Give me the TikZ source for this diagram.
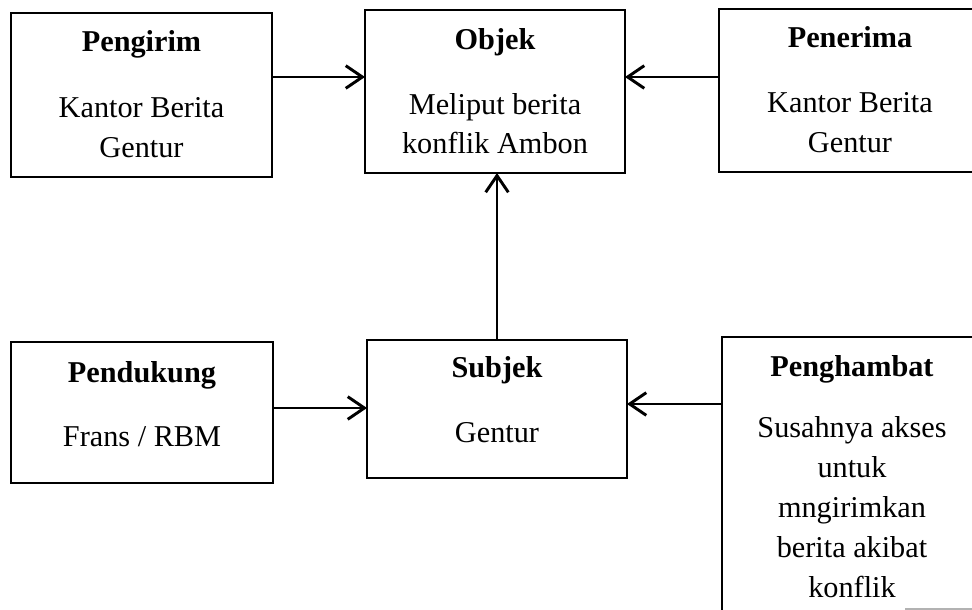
\documentclass[tikz,border=0pt]{standalone}
\usepackage{fontspec}
\setmainfont{Liberation Serif}
\usetikzlibrary{arrows.meta}
\begin{document}
\begin{tikzpicture}[x=0.75pt,y=-0.75pt,
 box/.style={draw, line width=1.8pt, inner sep=0pt, outer sep=0pt, anchor=north west, rectangle},
 ttl/.style={font=\fontsize{22.7pt}{30pt}\selectfont\bfseries, anchor=base, inner sep=0pt},
 body/.style={font=\fontsize{22.7pt}{30pt}\selectfont, anchor=base, align=center, inner sep=0pt},
 arr/.style={line width=2.2pt, -{Straight Barb[length=12.5pt,width=17pt]}}]
\useasboundingbox (0,0) rectangle (972,610);
% boxes
\node[box, minimum width=195.75pt, minimum height=123pt] (pengirim) at (11,13) {};
\node[box, minimum width=195pt, minimum height=122.25pt] (objek) at (365,10) {};
\node[box, minimum width=196.5pt, minimum height=122.25pt] (penerima) at (719,9) {};
\node[box, minimum width=196.5pt, minimum height=105.75pt] (pendukung) at (11,342) {};
\node[box, minimum width=195pt, minimum height=103.5pt] (subjek) at (367,340) {};
\node[box, minimum width=195pt, minimum height=219.75pt] (penghambat) at (722,337) {};
% texts (body nodes are placed by the baseline of their last line)
\node[ttl] (pengirimT) at (141.5,52) {Pengirim};
\node[body] (pengirimB) at (141.5,157) {Kantor Berita\\Gentur};
\node[ttl] (objekT) at (495,50) {Objek};
\node[body] (objekB) at (495,154) {Meliput berita\\konflik Ambon};
\node[ttl] (penerimaT) at (850,48) {Penerima};
\node[body] (penerimaB) at (850,152) {Kantor Berita\\Gentur};
\node[ttl] (pendukungT) at (142,382) {Pendukung};
\node[body] (pendukungB) at (142,446) {Frans / RBM};
\node[ttl] (subjekT) at (497,377) {Subjek};
\node[body] (subjekB) at (497,442) {Gentur};
\node[ttl] (penghambatT) at (852,376) {Penghambat};
\node[body] (penghambatB) at (852,597) {Susahnya akses\\untuk\\mngirimkan\\berita akibat\\konflik};
% connectors
\coordinate (ya) at (0,77);
\coordinate (yb) at (0,408);
\coordinate (yc) at (0,404);
\coordinate (xv) at (497,0);
\draw[arr] (pengirim.east |- ya) -- (objek.west |- ya);
\draw[arr] (penerima.west |- ya) -- (objek.east |- ya);
\draw[arr] (subjek.north -| xv) -- (objek.south -| xv);
\draw[arr] (pendukung.east |- yb) -- (subjek.west |- yb);
\draw[arr] (penghambat.west |- yc) -- (subjek.east |- yc);
% faint partial edge at the bottom right
\coordinate (fa) at (905,609);
\coordinate (fb) at (972,609);
\draw[black!30, line width=1pt] (fa) -- (fb);
\end{tikzpicture}
\end{document}
